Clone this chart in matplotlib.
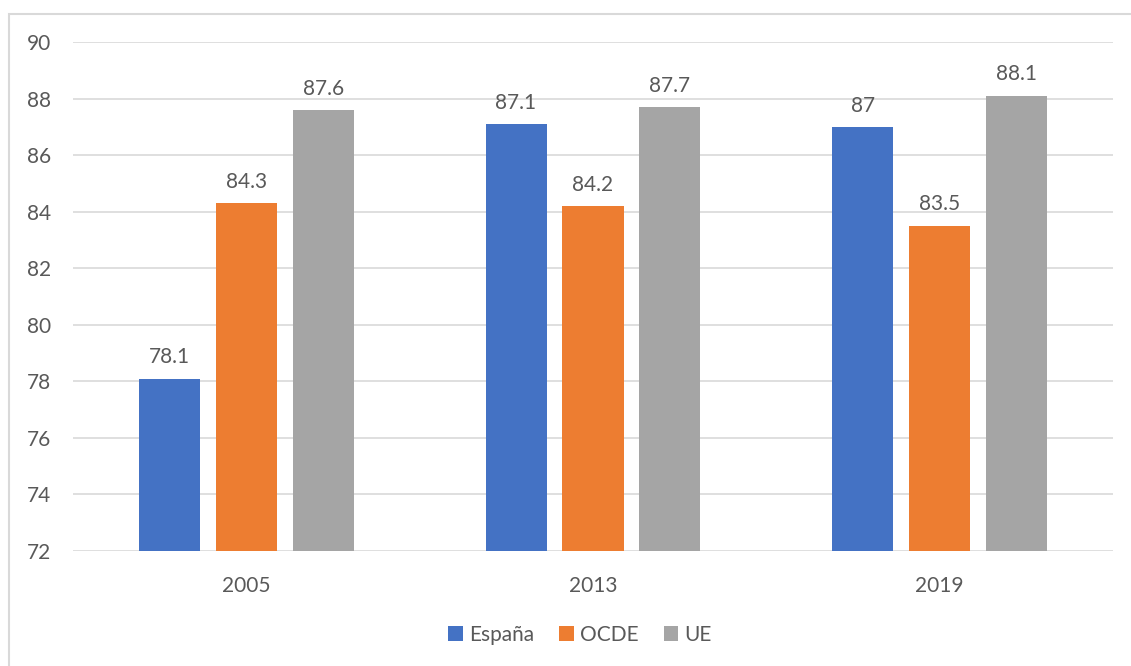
import matplotlib
matplotlib.use("Agg")
import matplotlib.pyplot as plt
from matplotlib.patches import Rectangle
import numpy as np

plt.rcParams['font.family'] = ['Lato', 'DejaVu Sans']

categories = ["2005", "2013", "2019"]
series_names = ["España", "OCDE", "UE"]
espana = [78.1, 87.1, 87.0]
ocde = [84.3, 84.2, 83.5]
ue = [87.6, 87.7, 88.1]
labels_espana = ["78.1", "87.1", "87"]
labels_ocde = ["84.3", "84.2", "83.5"]
labels_ue = ["87.6", "87.7", "88.1"]
yticks = [72, 74, 76, 78, 80, 82, 84, 86, 88, 90]
colors = ["#4472C4", "#ED7D31", "#A5A5A5"]
text_color = "#595959"

W, H = 1131, 666
fig = plt.figure(figsize=(W / 100, H / 100), dpi=100)
ax = fig.add_axes([73 / W, 1 - 551 / H, (1113 - 73) / W, (551 - 42) / H])

x = np.arange(len(categories))
bw = 0.176
step = 0.222
fs = 15
all_vals = [espana, ocde, ue]
all_labels = [labels_espana, labels_ocde, labels_ue]
for i, (vals, labs) in enumerate(zip(all_vals, all_labels)):
    pos = x + (i - 1) * step
    ax.bar(pos, [v - 72 for v in vals], bw, bottom=72, color=colors[i],
           label=series_names[i], zorder=3)
    for p, v, l in zip(pos, vals, labs):
        ax.text(p, v + 0.4, l, ha="center", va="bottom", fontsize=fs, color=text_color)

ax.set_xlim(-0.5, 2.5)
ax.set_ylim(72, 90)
ax.set_yticks(yticks)
ax.set_xticks(x)
ax.set_xticklabels(categories)
ax.grid(axis="y", color="#D9D9D9", linewidth=1.2, zorder=0)
for s in ax.spines.values():
    s.set_visible(False)
ax.tick_params(axis="both", length=0, labelsize=fs, colors=text_color)
ax.tick_params(axis="y", pad=33)
ax.tick_params(axis="x", pad=18)
for t in ax.get_yticklabels():
    t.set_horizontalalignment("left")

leg = fig.legend(loc="center", bbox_to_anchor=(580 / W, 1 - 635 / H), ncol=3, frameon=False,
                 fontsize=fs, handlelength=0.7, handleheight=0.7, handletextpad=0.3,
                 columnspacing=1.2)
for t in leg.get_texts():
    t.set_color(text_color)

border = Rectangle((8.5 / W, -0.1), 1.2, 1 - 13.5 / H + 0.1, transform=fig.transFigure,
                   fill=False, edgecolor="#D9D9D9", linewidth=1.5)
fig.patches.append(border)

fig.savefig("out.png", dpi=100)
